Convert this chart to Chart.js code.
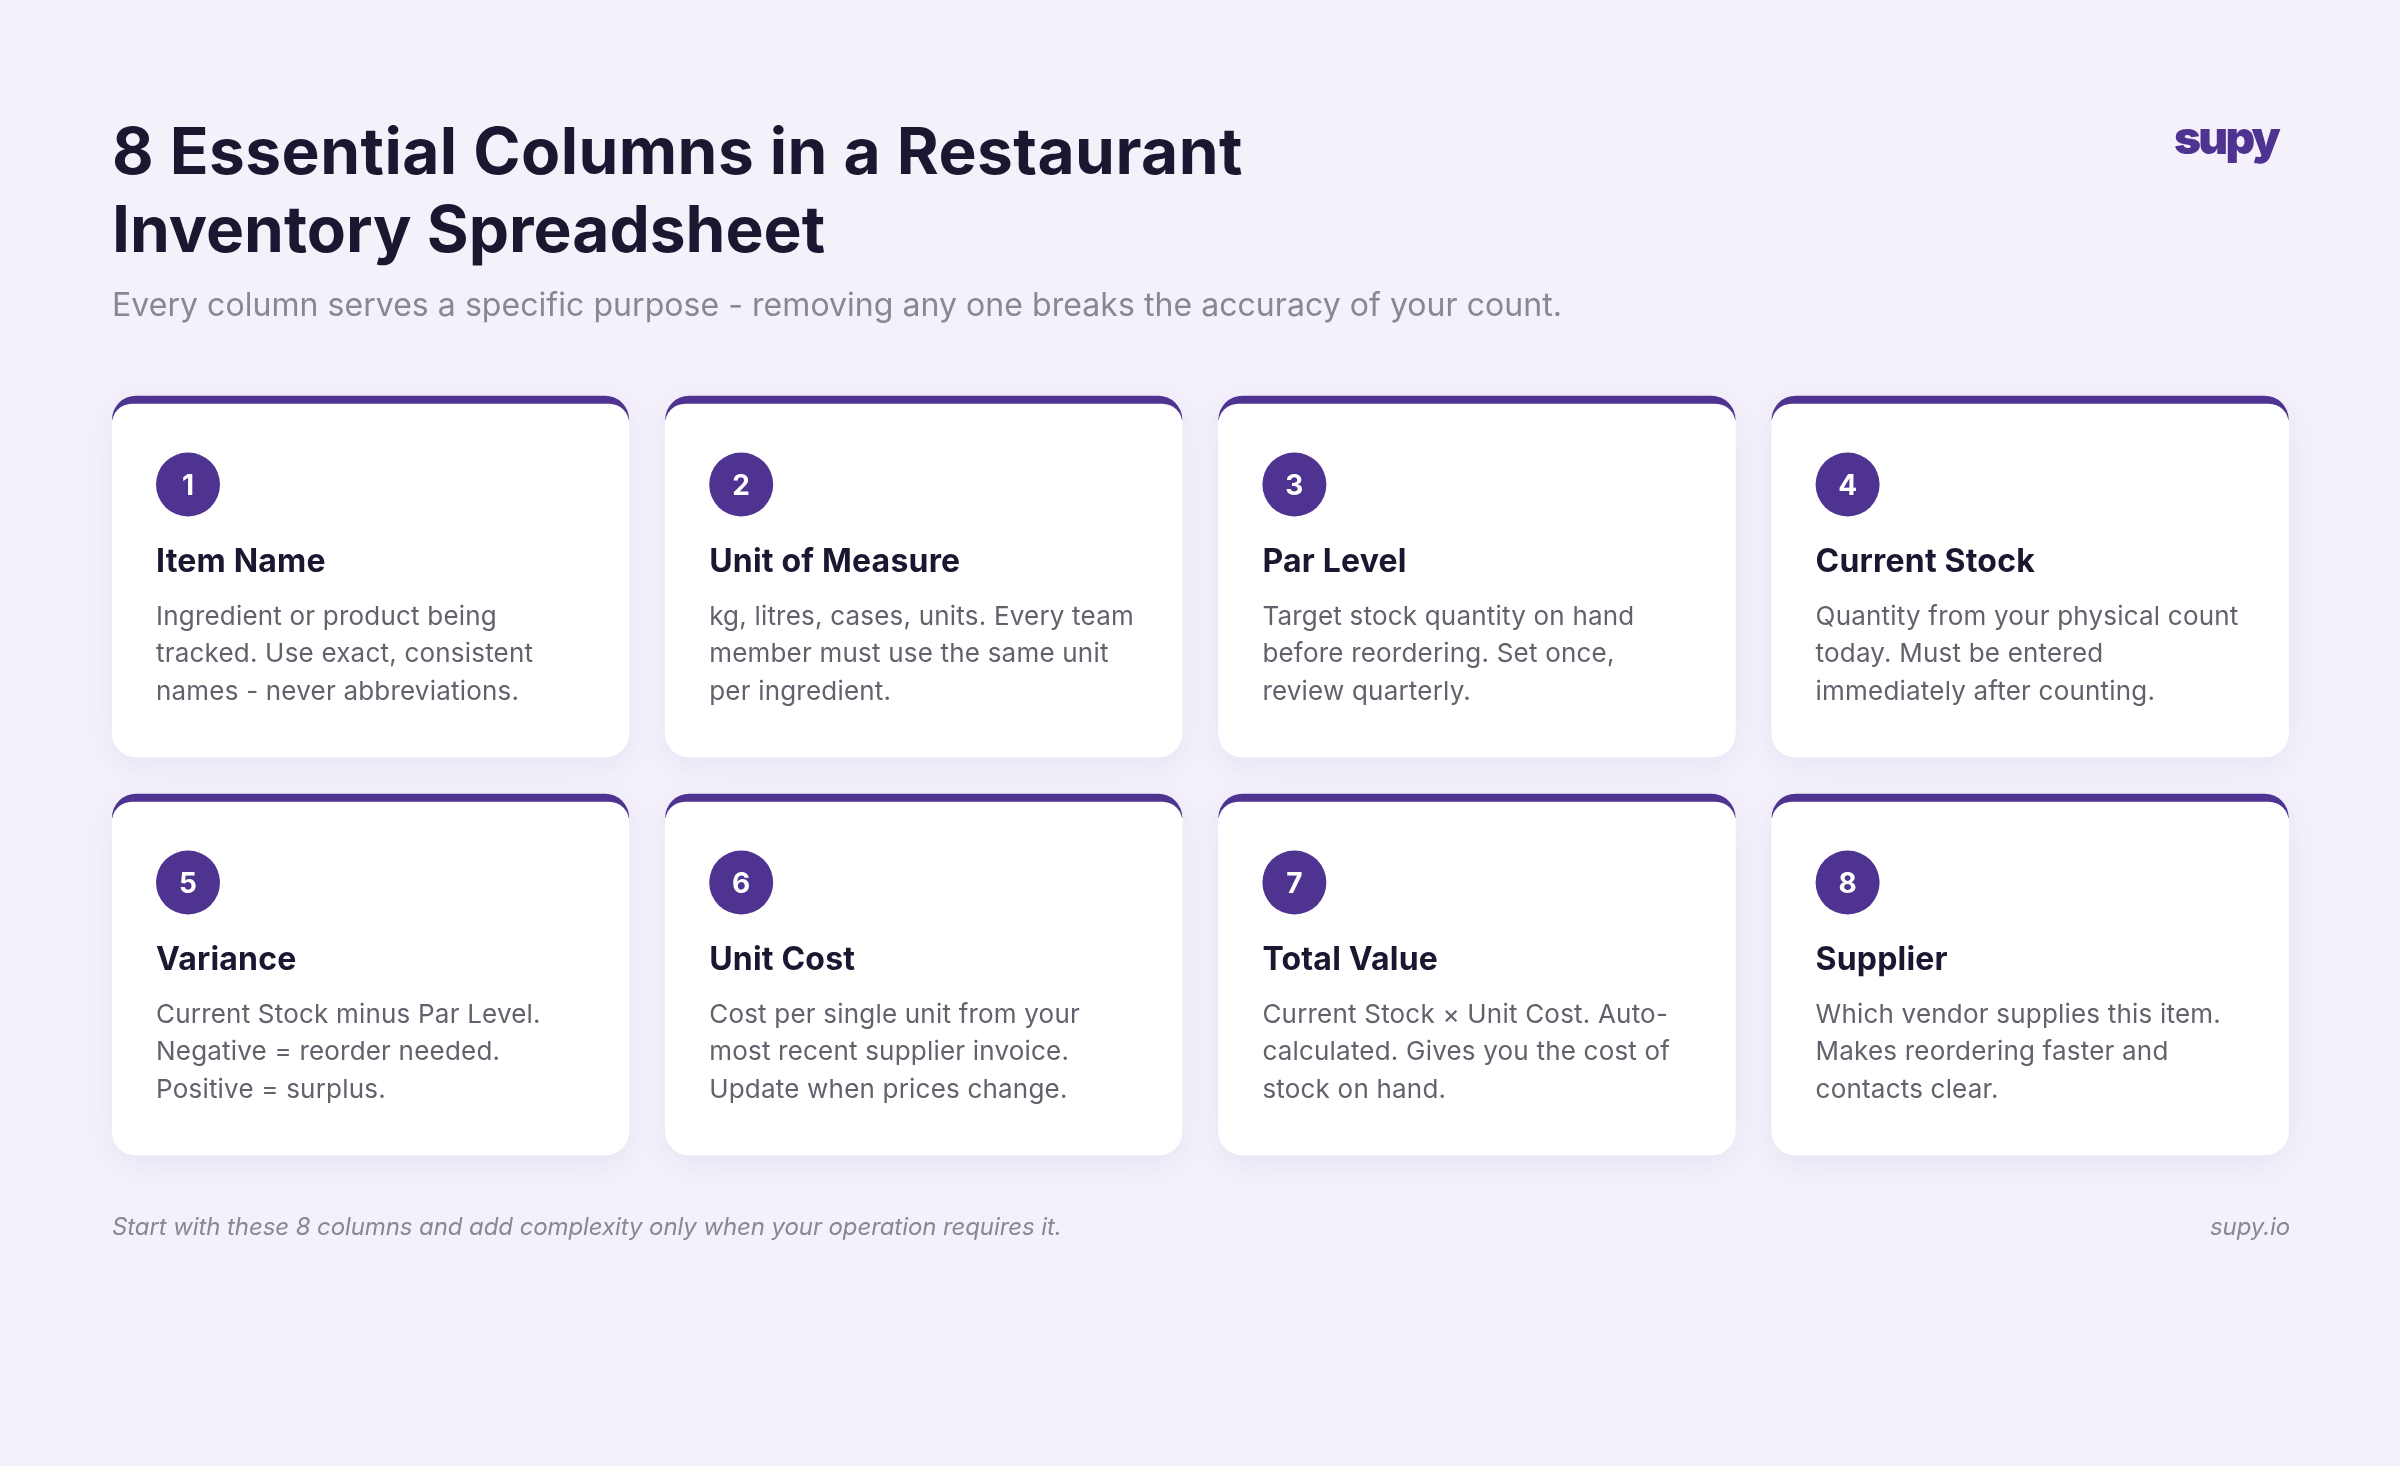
<!DOCTYPE html>
<html><head><meta charset="utf-8">
<style>
html,body{margin:0;padding:0;background:#f4f1fb;width:2400px;height:1466px;overflow:hidden}
#wrap{position:relative;width:2400px;height:1466px}
canvas{position:absolute;left:0;top:0}
.t{position:absolute;white-space:pre;font-family:Inter,sans-serif}
</style></head><body>
<div id="wrap"><canvas id="c" width="2400" height="1466"></canvas></div>
<script src="https://cdn.jsdelivr.net/npm/chart.js@4"></script>
<script>
const titleLines=["8 Essential Columns in a Restaurant","Inventory Spreadsheet"];
const subtitle="Every column serves a specific purpose - removing any one breaks the accuracy of your count.";
const logoText="supy";
const footnote="Start with these 8 columns and add complexity only when your operation requires it.";
const footerSite="supy.io";
const columnNumbers=["1","2","3","4","5","6","7","8"];
const columnNames=["Item Name","Unit of Measure","Par Level","Current Stock","Variance","Unit Cost","Total Value","Supplier"];
const columnNotes=[
 ["Ingredient or product being","tracked. Use exact, consistent","names - never abbreviations."],
 ["kg, litres, cases, units. Every team","member must use the same unit","per ingredient."],
 ["Target stock quantity on hand","before reordering. Set once,","review quarterly."],
 ["Quantity from your physical count","today. Must be entered","immediately after counting."],
 ["Current Stock minus Par Level.","Negative = reorder needed.","Positive = surplus."],
 ["Cost per single unit from your","most recent supplier invoice.","Update when prices change."],
 ["Current Stock × Unit Cost. Auto-","calculated. Gives you the cost of","stock on hand."],
 ["Which vendor supplies this item.","Makes reordering faster and","contacts clear."]
];

const W=2400,H=1466;
const layout={cardW:516.5,cardH:361,pitchX:553.2,pitchY:398,firstLeft:112.3,firstTop:396,accent:8,accentCap:24,badgeDX:75.7,badgeDY:88.5,badgeR:32};
const colOf=i=>i%4, rowOf=i=>Math.floor(i/4);
const x0=layout.firstLeft+layout.cardW/2;
const bodyInset=layout.accent/layout.pitchY, cardSpan=layout.cardH/layout.pitchY;
const baseBars=columnNumbers.map((_,i)=>({x:colOf(i),y:[rowOf(i),rowOf(i)+cardSpan]}));
const accentBars=columnNumbers.map((_,i)=>({x:colOf(i),y:[rowOf(i),rowOf(i)+cardSpan]}));
const bodyBars=columnNumbers.map((_,i)=>({x:colOf(i),y:[rowOf(i)+bodyInset,rowOf(i)+cardSpan]}));
const badges=columnNumbers.map((_,i)=>({x:colOf(i)+(layout.badgeDX-layout.cardW/2)/layout.pitchX,y:rowOf(i)+layout.badgeDY/layout.pitchY}));

const cardLayers={id:'cardLayers',
 beforeDatasetDraw(chart,args){
  const c=chart.ctx;
  if(args.index===3){c.save();c.shadowColor='rgba(79,51,145,0.08)';c.shadowBlur=32;c.shadowOffsetY=8;}
  if(args.index===2){
   c.save();c.beginPath();
   [...new Set(columnNumbers.map((_,i)=>rowOf(i)))].forEach(r=>{
    const top=chart.scales.y.getPixelForValue(r);
    c.rect(0,top-2,W,layout.accentCap+2);
   });
   c.clip();
  }
 },
 afterDatasetDraw(chart,args){if(args.index===3||args.index===2){chart.ctx.restore();}}};

const chart=new Chart(document.getElementById('c'),{
 data:{datasets:[
  {type:'scatter',label:'Column number',data:badges,pointRadius:layout.badgeR,pointHoverRadius:layout.badgeR,backgroundColor:'#4f3391',borderWidth:0,clip:false},
  {type:'bar',label:'Card body',data:bodyBars,backgroundColor:'#ffffff',barThickness:layout.cardW,borderSkipped:false,borderRadius:{topLeft:20,topRight:20,bottomLeft:24,bottomRight:24},grouped:false,clip:false},
  {type:'bar',label:'Card accent',data:accentBars,backgroundColor:'#4f3391',barThickness:layout.cardW,borderSkipped:false,borderRadius:24,grouped:false,clip:false},
  {type:'bar',label:'Card base',data:baseBars,backgroundColor:'#ffffff',barThickness:layout.cardW,borderSkipped:false,borderRadius:24,grouped:false,clip:false}
 ]},
 options:{responsive:false,devicePixelRatio:1,animation:false,events:[],
  layout:{padding:0,autoPadding:false},
  plugins:{legend:{display:false},title:{display:false},tooltip:{enabled:false}},
  scales:{
   x:{type:'linear',display:false,offset:false,bounds:'data',min:-x0/layout.pitchX,max:(W-x0)/layout.pitchX},
   y:{type:'linear',display:false,reverse:true,bounds:'data',beginAtZero:false,min:-layout.firstTop/layout.pitchY,max:(H-layout.firstTop)/layout.pitchY}
  }},
 plugins:[cardLayers]
});

const wrap=document.getElementById('wrap');
function put(text,x,baseline,o){
 const d=document.createElement('div');d.className='t';d.textContent=text;
 const L=Math.round(o.size*1.3);
 const top=baseline-((L-1.21*o.size)/2+0.96875*o.size);
 d.style.cssText+=`top:${top}px;font-size:${o.size}px;line-height:${L}px;font-weight:${o.weight||400};color:${o.color};letter-spacing:${o.ls||0}px;font-style:${o.style||'normal'};`;
 if(o.right!==undefined){d.style.right=(W-o.right)+'px';}
 else if(o.center){d.style.left=x+'px';d.style.transform='translateX(-50%)';}
 else d.style.left=x+'px';
 wrap.appendChild(d);return d;
}
const ink='#1a1730',muted='#8a8792',body='#63616c',brand='#4f3391';
put(titleLines[0],112,174,{size:64,weight:700,color:ink,ls:0.45});
put(titleLines[1],112,252,{size:64,weight:700,color:ink});
put(subtitle,112,317,{size:32,color:muted,ls:0.05});
put(logoText,0,154,{size:46,weight:900,color:brand,ls:-2.8,right:2278});
const sx=chart.scales.x,sy=chart.scales.y;
columnNumbers.forEach((n,i)=>{
 const bx=sx.getPixelForValue(badges[i].x),by=sy.getPixelForValue(badges[i].y);
 const left=bx-layout.badgeR;
 put(n,bx,by+10.5,{size:28,weight:700,color:'#ffffff',center:true});
 const rowTop=sy.getPixelForValue(rowOf(i));
 put(columnNames[i],left,rowTop+177,{size:32,weight:700,color:ink,ls:0.2});
 columnNotes[i].forEach((line,j)=>put(line,left,rowTop+229+j*37.7,{size:26,color:body,ls:0.2}));
});
put(footnote,112,1235,{size:24,style:'italic',color:muted,ls:-0.09});
put(footerSite,0,1235,{size:24,style:'italic',color:muted,ls:-0.09,right:2290});
</script></body></html>
